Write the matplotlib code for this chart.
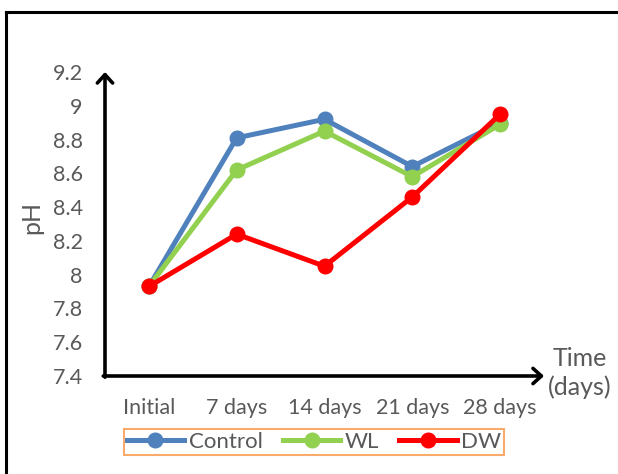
import matplotlib
matplotlib.use("Agg")
import matplotlib.pyplot as plt
from matplotlib.lines import Line2D

# pH readings over the storage period
days = ["Initial", "7 days", "14 days", "21 days", "28 days"]
control = [7.93, 8.81, 8.92, 8.64, 8.90]
wl = [7.93, 8.62, 8.85, 8.58, 8.89]
dw = [7.93, 8.24, 8.05, 8.46, 8.95]
yticks = [7.4, 7.6, 7.8, 8.0, 8.2, 8.4, 8.6, 8.8, 9.0, 9.2]
ytick_labels = ["7.4", "7.6", "7.8", "8", "8.2", "8.4", "8.6", "8.8", "9", "9.2"]

plt.rcParams['font.family'] = ['Lato', 'DejaVu Sans']
gray = "#595959"

fig = plt.figure(figsize=(6.18, 4.74), dpi=100)
ax = fig.add_axes([105/618, 1-376/474, 439/618, 304/474])

x = list(range(len(days)))
ax.plot(x, control, color="#4F81BD", lw=3.6, marker="o", ms=10.5, label="Control", zorder=3)
ax.plot(x, wl, color="#92D050", lw=3.6, marker="o", ms=10.5, label="WL", zorder=4)
ax.plot(x, dw, color="#FF0000", lw=3.6, marker="o", ms=10.5, label="DW", zorder=5)

ax.set_xlim(-0.5, 4.5)
ax.set_ylim(7.4, 9.2)
ax.set_xticks(x)
ax.set_xticklabels(days)
ax.set_yticks(yticks)
ax.set_yticklabels(ytick_labels)
ax.tick_params(length=0, labelsize=15.5, labelcolor=gray)
ax.tick_params(axis="y", pad=16)
ax.tick_params(axis="x", pad=16)
for s in ax.spines.values():
    s.set_visible(False)

# axis arrows
arrow = dict(arrowstyle="->,head_length=0.6,head_width=0.55", lw=2.6, color="black",
             shrinkA=0, shrinkB=0)
ax.annotate("", xy=(0, 1.0), xytext=(0, -0.004), xycoords="axes fraction", arrowprops=arrow,
            annotation_clip=False)
ax.annotate("", xy=(1.0, 0), xytext=(-0.004, 0), xycoords="axes fraction", arrowprops=arrow,
            annotation_clip=False)

ax.set_ylabel("pH", fontsize=18, color=gray)
ax.yaxis.set_label_coords(-0.14, 0.52)
fig.text(580/618, 1-373/474, "Time\n(days)", fontsize=18, color=gray,
         ha="center", va="center", linespacing=1.25)

leg = fig.legend(loc="center", bbox_to_anchor=(314/618, 1-442/474), ncol=3,
                 fontsize=16, frameon=True, fancybox=False, handlelength=2.6,
                 handletextpad=0.2, columnspacing=0.9, borderpad=0.12,
                 labelcolor=gray)
leg.get_frame().set_edgecolor("#F79646")
leg.get_frame().set_linewidth(1.5)

# outer frame (left and top edges)
fig.add_artist(Line2D([6/618, 6/618], [0, 1-12/474], color="black", lw=2.2,
                      transform=fig.transFigure))
fig.add_artist(Line2D([6/618, 1], [1-12/474, 1-12/474], color="black", lw=2.2,
                      transform=fig.transFigure))

fig.savefig("out.png", dpi=100)
